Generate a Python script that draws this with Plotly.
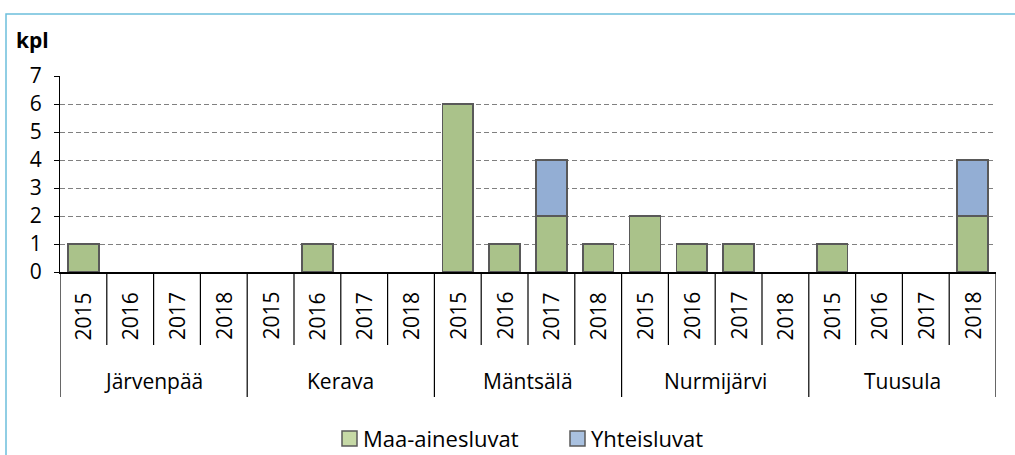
import plotly.graph_objects as go

municipalities = ["Järvenpää", "Kerava", "Mäntsälä", "Nurmijärvi", "Tuusula"]
years = ["2015", "2016", "2017", "2018"]
series_names = ["Maa-ainesluvat", "Yhteisluvat"]
maa_ainesluvat = [1, 0, 0, 0, 0, 1, 0, 0, 6, 1, 2, 1, 2, 1, 1, 0, 1, 0, 0, 2]
yhteisluvat = [0, 0, 0, 0, 0, 0, 0, 0, 0, 0, 2, 0, 0, 0, 0, 0, 0, 0, 0, 2]
y_ticks = [0, 1, 2, 3, 4, 5, 6, 7]

FONT = "Open Sans"
FS = 21
BAR_COLORS = ["#aac28a", "#93aed4"]
LEG_COLORS = ["#c6d9a6", "#a9c1e0"]
n = len(municipalities) * len(years)
xs = list(range(n))

def nz(v):
    return [None if a == 0 else a for a in v]

fig = go.Figure()
for name, vals, col in zip(series_names, [maa_ainesluvat, yhteisluvat], BAR_COLORS):
    fig.add_trace(go.Bar(
        x=xs, y=nz(vals), name=name, showlegend=False,
        marker=dict(color=col, line=dict(color="#595959", width=1.5)),
        width=0.66,
    ))

# pixel -> paper helpers (plot area: x 60..996, y 76..272)
def px(xp):
    return (xp - 60) / 936.0

def py(yp):
    return (272 - yp) / 196.0

shapes = []
# category separators below axis
for i in range(n + 1):
    major = (i % len(years) == 0)
    shapes.append(dict(type="line", xref="x", yref="paper",
                       x0=i - 0.5, x1=i - 0.5, y0=0, y1=py(397) if major else py(345),
                       line=dict(color="#000000", width=1.2)))
# outer border (light blue frame)
shapes.append(dict(type="rect", xref="paper", yref="paper",
                   x0=px(6), x1=px(1025), y0=py(470), y1=py(14),
                   line=dict(color="#6cbfdc", width=1.5), fillcolor="rgba(0,0,0,0)", layer="below"))

annotations = []
for i in range(n):
    annotations.append(dict(x=i, y=py(316), xref="x", yref="paper", text=years[i % len(years)],
                            showarrow=False, textangle=-90, font=dict(family=FONT, size=FS, color="#000"),
                            xanchor="center", yanchor="middle"))
for g, m in enumerate(municipalities):
    annotations.append(dict(x=g * 4 + 1.5, y=py(381), xref="x", yref="paper", text=m,
                            showarrow=False, font=dict(family=FONT, size=FS, color="#000"),
                            xanchor="center", yanchor="middle"))
annotations.append(dict(x=px(14), y=py(40), xref="paper", yref="paper", text="<b>kpl</b>",
                        showarrow=False, font=dict(family=FONT, size=FS, color="#000"),
                        xanchor="left", yanchor="middle"))

# legend (drawn)
legend_x = [342, 570]
for lx, name, col in zip(legend_x, series_names, LEG_COLORS):
    shapes.append(dict(type="rect", xref="paper", yref="paper",
                       x0=px(lx), x1=px(lx + 15), y0=py(446), y1=py(431),
                       line=dict(color="#595959", width=1.5), fillcolor=col))
    annotations.append(dict(x=px(lx + 19), y=py(438), xref="paper", yref="paper", text=name,
                            showarrow=False, font=dict(family=FONT, size=22, color="#000"),
                            xanchor="left", yanchor="middle"))

fig.update_layout(
    width=1015, height=455,
    margin=dict(l=60, r=19, t=76, b=183, autoexpand=False),
    barmode="stack",
    plot_bgcolor="white", paper_bgcolor="white",
    font=dict(family=FONT, size=FS, color="#000"),
    xaxis=dict(range=[-0.5, n - 0.5], showticklabels=False, showgrid=False, zeroline=False,
               showline=True, linecolor="#000", linewidth=1.5, ticks="", automargin=False),
    yaxis=dict(range=[0, 7], tickvals=y_ticks, showgrid=True, gridcolor="#808080", gridwidth=1,
               griddash="5px,3px", zeroline=False, showline=True, linecolor="#000", linewidth=1.2,
               ticks="outside", ticklen=5, tickcolor="#000", tickfont=dict(family=FONT, size=FS),
               ticklabelstandoff=8, automargin=False),
    shapes=shapes,
    annotations=annotations,
    showlegend=False,
    bargap=0.34,
)

fig.write_html("out.html", config={"displayModeBar": False},
               post_script="document.body.style.margin='0px';document.body.style.overflow='hidden';")
